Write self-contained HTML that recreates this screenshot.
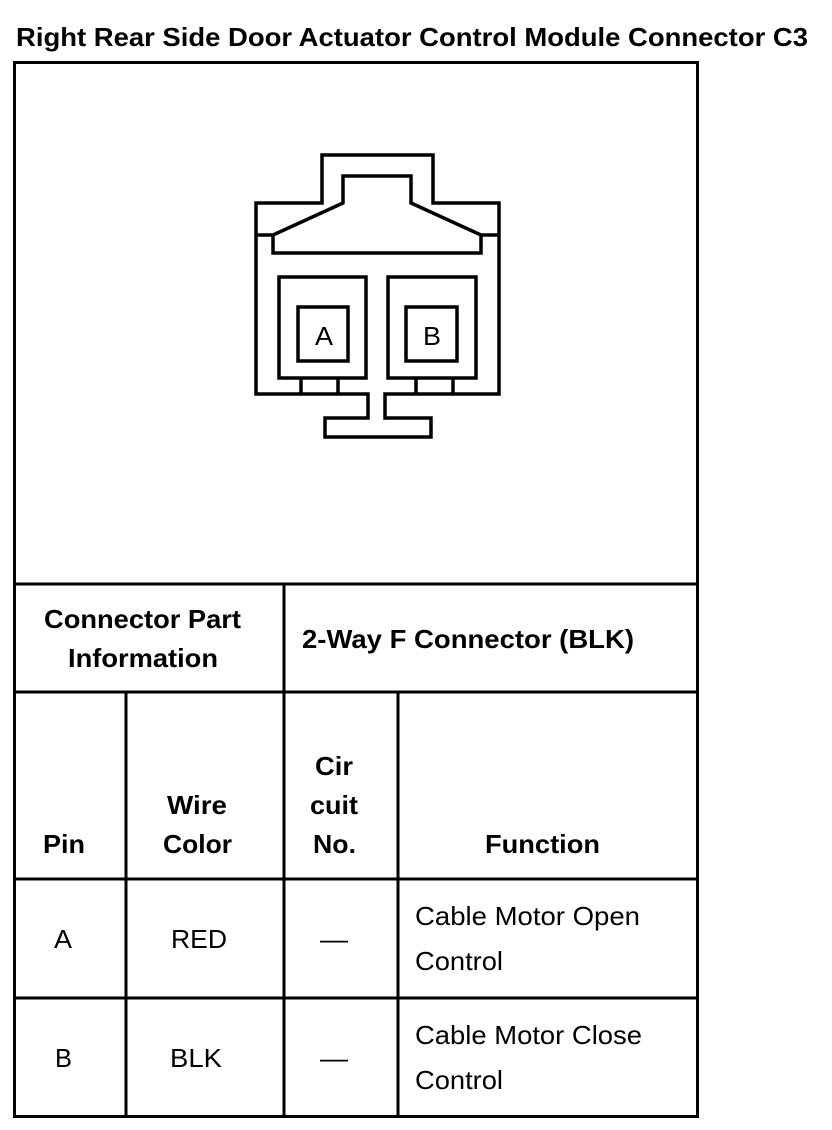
<!DOCTYPE html>
<html><head><meta charset="utf-8"><style>
html,body{margin:0;padding:0;background:#fff;width:832px;height:1130px;overflow:hidden}
svg{display:block}
text{font-family:"Liberation Sans",Arial,sans-serif;fill:#000}
.b{font-weight:bold;font-size:26px}
.n{font-size:26px}
</style></head><body>
<svg width="832" height="1130" viewBox="0 0 832 1130" xmlns="http://www.w3.org/2000/svg">
<text x="16" y="46" class="b" font-size="27" textLength="792" lengthAdjust="spacingAndGlyphs">Right Rear Side Door Actuator Control Module Connector C3</text>
<g stroke="#000" stroke-width="3" fill="none">
<rect x="14.5" y="62.5" width="683" height="1054"/>
<line x1="14" y1="584" x2="698" y2="584"/>
<line x1="14" y1="692" x2="698" y2="692"/>
<line x1="14" y1="879" x2="698" y2="879"/>
<line x1="14" y1="998" x2="698" y2="998"/>
<line x1="284" y1="584" x2="284" y2="1117"/>
<line x1="126" y1="692" x2="126" y2="1117"/>
<line x1="398" y1="692" x2="398" y2="1117"/>
</g>
<g stroke="#000" stroke-width="3.5" fill="none">
<path d="M322 155 H433 V203 H499 V394 H385 V418 H431 V437 H325 V418 H368 V394 H256 V203 H322 Z"/>
<path d="M343 176 H411 V203 L481 235 V253 H273 V235 L343 203 Z"/>
<line x1="256" y1="235" x2="273" y2="235"/>
<line x1="481" y1="235" x2="499" y2="235"/>
<rect x="279" y="277" width="87" height="101"/>
<rect x="388" y="277" width="88" height="101"/>
<rect x="298" y="307" width="50" height="54"/>
<rect x="406" y="307" width="51" height="54"/>
<line x1="301" y1="378" x2="301" y2="394"/>
<line x1="338" y1="378" x2="338" y2="394"/>
<line x1="416" y1="378" x2="416" y2="394"/>
<line x1="453" y1="378" x2="453" y2="394"/>
</g>
<text x="315" y="345" class="n" font-size="27" textLength="18" lengthAdjust="spacingAndGlyphs">A</text>
<text x="423" y="345" class="n" font-size="27" textLength="18" lengthAdjust="spacingAndGlyphs">B</text>
<text x="44" y="628" class="b" textLength="197" lengthAdjust="spacingAndGlyphs">Connector Part</text>
<text x="68" y="667" class="b" textLength="150" lengthAdjust="spacingAndGlyphs">Information</text>
<text x="302" y="648" class="b" textLength="332" lengthAdjust="spacingAndGlyphs">2-Way F Connector (BLK)</text>
<text x="43" y="853" class="b" textLength="42" lengthAdjust="spacingAndGlyphs">Pin</text>
<text x="167" y="814" class="b" textLength="60" lengthAdjust="spacingAndGlyphs">Wire</text>
<text x="163" y="853" class="b" textLength="69" lengthAdjust="spacingAndGlyphs">Color</text>
<text x="315" y="775" class="b" textLength="38" lengthAdjust="spacingAndGlyphs">Cir</text>
<text x="310" y="814" class="b" textLength="48" lengthAdjust="spacingAndGlyphs">cuit</text>
<text x="313" y="853" class="b" textLength="43" lengthAdjust="spacingAndGlyphs">No.</text>
<text x="485" y="853" class="b" textLength="115" lengthAdjust="spacingAndGlyphs">Function</text>
<text x="54" y="948" class="n" textLength="18" lengthAdjust="spacingAndGlyphs">A</text>
<text x="171" y="948" class="n" textLength="56" lengthAdjust="spacingAndGlyphs">RED</text>
<text x="320" y="948" class="n" textLength="28" lengthAdjust="spacingAndGlyphs">—</text>
<text x="415" y="925" class="n" textLength="225" lengthAdjust="spacingAndGlyphs">Cable Motor Open</text>
<text x="415" y="970" class="n" textLength="88" lengthAdjust="spacingAndGlyphs">Control</text>
<text x="55" y="1067" class="n" textLength="17" lengthAdjust="spacingAndGlyphs">B</text>
<text x="170" y="1067" class="n" textLength="52" lengthAdjust="spacingAndGlyphs">BLK</text>
<text x="320" y="1067" class="n" textLength="28" lengthAdjust="spacingAndGlyphs">—</text>
<text x="415" y="1044" class="n" textLength="227" lengthAdjust="spacingAndGlyphs">Cable Motor Close</text>
<text x="415" y="1089" class="n" textLength="88" lengthAdjust="spacingAndGlyphs">Control</text>
</svg>
</body></html>
